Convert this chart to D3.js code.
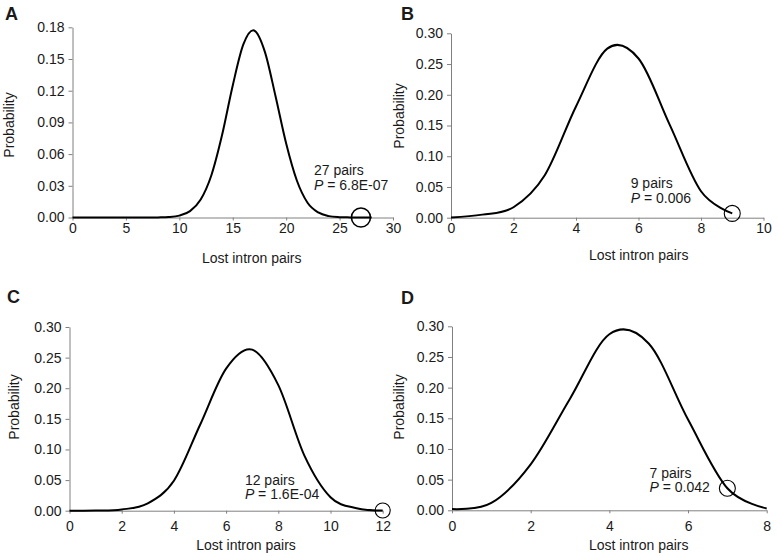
<!DOCTYPE html>
<html>
<head>
<meta charset="utf-8">
<script src="https://cdn.jsdelivr.net/npm/d3@7"></script>
<style>
  html, body { margin: 0; padding: 0; background: #fff; }
  svg { display: block; }
  text { font-family: "Liberation Sans", Arial, Helvetica, sans-serif; fill: #1a1a1a; }
</style>
</head>
<body>
<svg id="chart" width="778" height="556"></svg>
<script>
// ---------- data ----------
const xA = [0,1,2,3,4,5,6,7,8,9,10,11,12,13,14,15,16,17,18,19,20,21,22,23,24,25,26,27,28];
const probA = [0,0,0,0,0,0,0,0,0.0001,0.0004,0.0018,0.006,0.017,0.040,0.078,0.125,0.164,0.177,0.157,0.115,0.070,0.035,0.014,0.0048,0.0013,0.0003,0.0001,0,0];

const xB = [0,1,2,3,4,5,6,7,8,9];
const probB = [0.0002,0.005,0.017,0.069,0.181,0.275,0.259,0.151,0.043,0.007];

const xC = [0,1,2,3,4,5,6,7,8,9,10,11,12];
const probC = [0,0.0002,0.002,0.012,0.049,0.140,0.232,0.263,0.205,0.090,0.022,0.004,0.0003];

const xD = [0,1,2,3,4,5,6,7,8];
const probD = [0.002,0.012,0.075,0.182,0.287,0.272,0.148,0.036,0.003];

const xTicksA = [0,5,10,15,20,25,30];
const xTicksB = [0,2,4,6,8,10];
const xTicksC = [0,2,4,6,8,10,12];
const xTicksD = [0,2,4,6,8];
const yTicksA = [0,0.03,0.06,0.09,0.12,0.15,0.18];
const yTicksBCD = [0,0.05,0.10,0.15,0.20,0.25,0.30];

const panelLetters = ["A","B","C","D"];
const observedPairs = [27, 9, 12, 7];
const pairLabels = ["27 pairs","9 pairs","12 pairs","7 pairs"];
const pValues = ["6.8E-07","0.006","1.6E-04","0.042"];
const xTitle = "Lost intron pairs";
const yTitle = "Probability";

// ---------- layout (positions / styles) ----------
const layout = [
  {xs:xA, ys:probA, xt:xTicksA, yt:yTicksA, xMax:30, yMax:0.18, L:72.5, R:393, T:27.3, B:217.5,
   letter:[5,20], ylab:[13.5,125], xlab:[251.7,263], lab:[22.6,0.040], r:9.5, sw:1.6, xOff:15.5},
  {xs:xB, ys:probB, xt:xTicksB, yt:yTicksBCD, xMax:10, yMax:0.30, L:451, R:763.5, T:33.3, B:217.7,
   letter:[401,20], ylab:[404.3,116], xlab:[638.7,260], lab:[5.75,0.048], r:8, sw:1.1, xOff:15.3},
  {xs:xC, ys:probC, xt:xTicksC, yt:yTicksBCD, xMax:12, yMax:0.30, L:69.5, R:382.7, T:327, B:510.7,
   letter:[7,303], ylab:[18.6,407], xlab:[246,550], lab:[6.72,0.042], r:7.5, sw:1.1, xOff:20.5},
  {xs:xD, ys:probD, xt:xTicksD, yt:yTicksBCD, xMax:8, yMax:0.30, L:452, R:766.7, T:326.3, B:510.3,
   letter:[401,304], ylab:[404.3,407], xlab:[638.7,550], lab:[5.02,0.053], r:8, sw:1.1, xOff:20.7}
];

const svg = d3.select("#chart");
svg.append("rect").attr("width",778).attr("height",556).attr("fill","#fff");

const axisColor = "#808080";

layout.forEach((p, i) => {
  const x = d3.scaleLinear().domain([0, p.xMax]).range([p.L, p.R]);
  const y = d3.scaleLinear().domain([0, p.yMax]).range([p.B, p.T]);
  const g = svg.append("g");

  // x axis
  const gx = g.append("g").attr("transform", `translate(0,${p.B})`)
    .call(d3.axisBottom(x).tickValues(p.xt).tickSize(3).tickSizeOuter(0).tickFormat(d3.format("d")));
  gx.select(".domain").attr("stroke", axisColor);
  gx.selectAll(".tick line").attr("stroke", axisColor);
  gx.selectAll(".tick text").attr("y", p.xOff - 9.9).attr("dy","0.71em")
    .style("font-size","14px").attr("fill","#1a1a1a")
    .style("font-family",'"Liberation Sans", Arial, sans-serif');

  // y axis
  const gy = g.append("g").attr("transform", `translate(${p.L},0)`)
    .call(d3.axisLeft(y).tickValues(p.yt).tickSize(4).tickSizeOuter(0).tickPadding(4).tickFormat(d3.format(".2f")));
  gy.select(".domain").attr("stroke", axisColor);
  gy.selectAll(".tick line").attr("stroke", axisColor);
  gy.selectAll(".tick text").style("font-size","14px").attr("fill","#1a1a1a")
    .style("font-family",'"Liberation Sans", Arial, sans-serif');

  // curve
  const pts = p.xs.map((v, k) => [v, p.ys[k]]);
  const line = d3.line().x(d => x(d[0])).y(d => y(d[1])).curve(d3.curveCardinal.tension(0));
  g.append("path").datum(pts).attr("d", line)
    .attr("fill","none").attr("stroke","#000").attr("stroke-width",2).attr("stroke-linejoin","round");

  // observed point circle
  const ox = observedPairs[i];
  const oy = p.ys[p.xs.indexOf(ox)];
  g.append("circle").attr("cx", x(ox)).attr("cy", y(oy)).attr("r", p.r)
    .attr("fill","none").attr("stroke","#000").attr("stroke-width", p.sw);

  // annotation
  const t = g.append("text").attr("x", x(p.lab[0])).attr("y", y(p.lab[1])).style("font-size","14px");
  t.append("tspan").attr("x", x(p.lab[0])).text(pairLabels[i]);
  const t2 = t.append("tspan").attr("x", x(p.lab[0])).attr("dy", "14.5");
  t2.append("tspan").style("font-style","italic").text("P");
  t2.append("tspan").text(" = " + pValues[i]);

  // axis titles
  g.append("text").attr("x", p.xlab[0]).attr("y", p.xlab[1]).attr("text-anchor","middle")
    .style("font-size","14px").text(xTitle);
  g.append("text").attr("transform", `translate(${p.ylab[0]},${p.ylab[1]}) rotate(-90)`)
    .attr("text-anchor","middle").style("font-size","14px").text(yTitle);

  // panel letter
  g.append("text").attr("x", p.letter[0]).attr("y", p.letter[1])
    .style("font-size","18px").style("font-weight","bold").attr("fill","#000").text(panelLetters[i]);
});
</script>
</body>
</html>
